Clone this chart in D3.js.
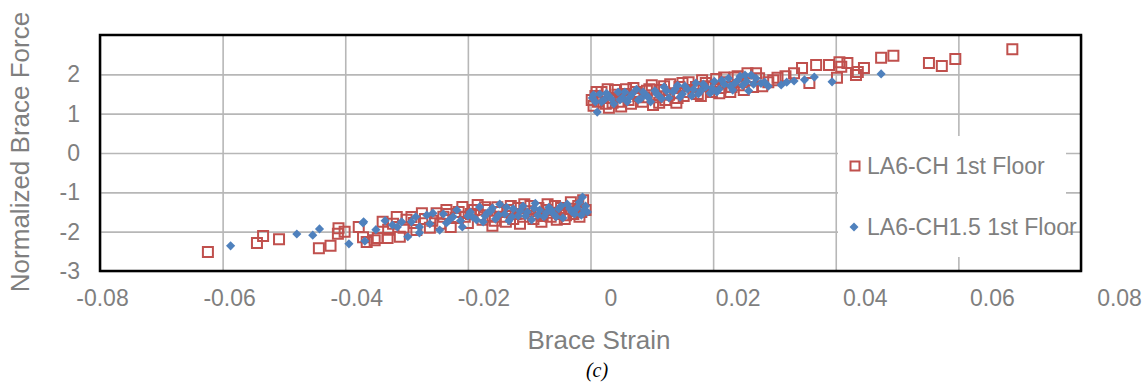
<!DOCTYPE html>
<html>
<head>
<meta charset="utf-8">
<script src="https://cdn.jsdelivr.net/npm/d3@7"></script>
<style>
  body { margin: 0; background: #fff; }
  svg text { font-family: "Liberation Sans", Arial, sans-serif; }
</style>
</head>
<body>
<div id="chart"></div>
<script>
// x ticks / y ticks
const xTicks = [-0.08, -0.06, -0.04, -0.02, 0, 0.02, 0.04, 0.06, 0.08];
const yTicks = [-3, -2, -1, 0, 1, 2];
const seriesNames = ["LA6-CH 1st Floor", "LA6-CH1.5 1st Floor"];

// LA6-CH 1st Floor (red squares)
const chStrain = [
  -0.0624, -0.0544, -0.0534, -0.0508, -0.0443, -0.0424, -0.0411, -0.0401, -0.0412, -0.0378,
  -0.0371, -0.0365, -0.0352, -0.0347, -0.0339, -0.0331, -0.0316, -0.0311, -0.0300, -0.0292,
  -0.0284, -0.0275, -0.0262, -0.0251, -0.0245, -0.0235, -0.0228, -0.0220, -0.0209, -0.0200,
  -0.0195, -0.0184, -0.0176, -0.0168, -0.0160, -0.0152, -0.0145, -0.0138, -0.0130, -0.0122,
  -0.0115, -0.0108, -0.0100, -0.0093, -0.0085, -0.0078, -0.0070, -0.0062, -0.0055, -0.0048,
  -0.0040, -0.0032, -0.0025, -0.0018, -0.0012, -0.0008,
  -0.0330, -0.0322, -0.0305, -0.0288, -0.0270, -0.0258, -0.0240, -0.0232, -0.0215, -0.0205,
  -0.0190, -0.0180, -0.0172, -0.0164, -0.0156, -0.0148, -0.0135, -0.0126, -0.0118, -0.0110,
  -0.0098, -0.0088, -0.0080, -0.0072, -0.0065, -0.0058, -0.0050, -0.0042, -0.0035, -0.0028,
  -0.0020, -0.0015,
  0.0005, 0.0008, 0.0012, 0.0018, 0.0025, 0.0032, 0.0040, 0.0048, 0.0055, 0.0062,
  0.0070, 0.0078, 0.0085, 0.0092, 0.0100, 0.0108, 0.0115, 0.0122, 0.0130, 0.0138,
  0.0145, 0.0152, 0.0160, 0.0168, 0.0175, 0.0182, 0.0190, 0.0198, 0.0205, 0.0212,
  0.0220, 0.0228, 0.0235, 0.0242, 0.0250, 0.0256, 0.0262, 0.0270, 0.0280, 0.0290,
  0.0305, 0.0332, 0.0345, 0.0357, 0.0368, 0.0389, 0.0402, 0.0406, 0.0409, 0.0419,
  0.0433, 0.0436, 0.0446, 0.0474, 0.0494, 0.0552, 0.0573, 0.0595, 0.0688,
  0.0050, 0.0102, 0.0140, 0.0030,
  0.0002, 0.0010, 0.0020, 0.0028, 0.0036, 0.0044, 0.0058, 0.0066, 0.0074, 0.0088,
  0.0096, 0.0112, 0.0120, 0.0128, 0.0142, 0.0150, 0.0158, 0.0172, 0.0180, 0.0188,
  0.0200, 0.0210, 0.0218, 0.0230, 0.0240, 0.0248, 0.0265, 0.0275, 0.0298, 0.0318
];
const chForce = [
  -2.52, -2.29, -2.11, -2.19, -2.42, -2.36, -1.91, -2.00, -2.05, -1.88,
  -2.14, -2.26, -2.22, -2.16, -1.75, -2.16, -1.63, -2.13, -1.70, -1.63,
  -1.96, -1.53, -1.90, -1.53, -1.80, -1.45, -1.88, -1.65, -1.37, -1.78,
  -1.55, -1.32, -1.70, -1.45, -1.85, -1.38, -1.62, -1.75, -1.35, -1.55,
  -1.80, -1.30, -1.48, -1.68, -1.40, -1.60, -1.30, -1.52, -1.70, -1.40,
  -1.58, -1.25, -1.48, -1.62, -1.20, -1.45,
  -1.95, -1.80, -1.90, -1.78, -1.68, -1.72, -1.62, -1.55, -1.50, -1.62,
  -1.45, -1.58, -1.38, -1.62, -1.72, -1.50, -1.45, -1.68, -1.40, -1.62,
  -1.35, -1.55, -1.75, -1.45, -1.62, -1.35, -1.55, -1.68, -1.42, -1.55,
  -1.35, -1.50,
  1.20, 1.45, 1.30, 1.55, 1.25, 1.40, 1.60, 1.30, 1.50, 1.35,
  1.65, 1.45, 1.30, 1.58, 1.72, 1.42, 1.60, 1.35, 1.75, 1.52,
  1.68, 1.45, 1.80, 1.60, 1.50, 1.85, 1.70, 1.55, 1.88, 1.65,
  1.80, 1.55, 1.92, 1.72, 1.60, 2.03, 1.85, 2.03, 1.70, 1.80,
  1.91, 2.03, 2.16, 1.78, 2.24, 2.24, 1.91, 2.31, 2.19, 2.29,
  1.98, 2.06, 2.16, 2.42, 2.47, 2.29, 2.21, 2.39, 2.64,
  1.18, 1.22, 1.28, 1.15,
  1.35, 1.55, 1.40, 1.62, 1.28, 1.48, 1.62, 1.25, 1.55, 1.42,
  1.62, 1.28, 1.70, 1.48, 1.40, 1.78, 1.55, 1.68, 1.45, 1.78,
  1.68, 1.52, 1.92, 1.68, 1.95, 1.80, 1.68, 1.90, 1.85, 1.95
];

// LA6-CH1.5 1st Floor (blue diamonds)
const ch15Strain = [
  -0.0587, -0.0479, -0.0453, -0.0442, -0.0394, -0.0370, -0.0368, -0.0371, -0.0350, -0.0323,
  -0.0308, -0.0298, -0.0292, -0.0279, -0.0279, -0.0267, -0.0257, -0.0246, -0.0235, -0.0230,
  -0.0218, -0.0209, -0.0200, -0.0192, -0.0181, -0.0175, -0.0168, -0.0160, -0.0155, -0.0148,
  -0.0140, -0.0133, -0.0126, -0.0118, -0.0110, -0.0103, -0.0096, -0.0090, -0.0083, -0.0076,
  -0.0068, -0.0060, -0.0052, -0.0045, -0.0038, -0.0030, -0.0022, -0.0015, -0.0013, -0.0008,
  -0.0005,
  -0.0335, -0.0315, -0.0285, -0.0262, -0.0240, -0.0224, -0.0212, -0.0196, -0.0186, -0.0172,
  -0.0163, -0.0150, -0.0137, -0.0128, -0.0115, -0.0106, -0.0092, -0.0086, -0.0072, -0.0064,
  -0.0056, -0.0048, -0.0034, -0.0026, -0.0018, -0.0010,
  0.0003, 0.0008, 0.0011, 0.0015, 0.0022, 0.0030, 0.0038, 0.0045, 0.0052, 0.0060,
  0.0068, 0.0075, 0.0082, 0.0090, 0.0098, 0.0105, 0.0112, 0.0120, 0.0128, 0.0135,
  0.0142, 0.0150, 0.0158, 0.0165, 0.0172, 0.0180, 0.0188, 0.0195, 0.0202, 0.0210,
  0.0218, 0.0225, 0.0232, 0.0240, 0.0248, 0.0252, 0.0258, 0.0262, 0.0270, 0.0278,
  0.0290, 0.0311, 0.0320, 0.0332, 0.0349, 0.0365, 0.0394, 0.0474,
  0.0005, 0.0018, 0.0026, 0.0034, 0.0048, 0.0056, 0.0064, 0.0078, 0.0086, 0.0094,
  0.0108, 0.0116, 0.0124, 0.0138, 0.0146, 0.0154, 0.0168, 0.0176, 0.0184, 0.0198,
  0.0206, 0.0214, 0.0228, 0.0236, 0.0244, 0.0255, 0.0266, 0.0284
];
const ch15Force = [
  -2.36, -2.06, -2.09, -1.93, -2.31, -1.75, -2.24, -1.78, -1.95, -1.83,
  -1.75, -2.13, -1.75, -1.88, -2.03, -1.58, -1.53, -1.96, -1.78, -1.70,
  -1.45, -1.88, -1.60, -1.63, -1.37, -1.75, -1.52, -1.40, -1.68, -1.30,
  -1.55, -1.72, -1.42, -1.60, -1.35, -1.50, -1.70, -1.28, -1.45, -1.62,
  -1.38, -1.55, -1.42, -1.65, -1.30, -1.50, -1.40, -1.58, -1.12, -1.35,
  -1.50,
  -1.72, -1.88, -1.62, -1.80, -1.55, -1.62, -1.72, -1.50, -1.70, -1.60,
  -1.48, -1.58, -1.38, -1.62, -1.48, -1.60, -1.40, -1.58, -1.52, -1.45,
  -1.62, -1.35, -1.42, -1.55, -1.25, -1.45,
  1.40, 1.30, 1.04, 1.50, 1.35, 1.45, 1.25, 1.55, 1.40, 1.30,
  1.50, 1.62, 1.38, 1.48, 1.30, 1.58, 1.45, 1.68, 1.40, 1.55,
  1.72, 1.50, 1.62, 1.45, 1.78, 1.58, 1.68, 1.52, 1.82, 1.62,
  1.75, 1.90, 1.60, 1.85, 1.72, 1.98, 1.58, 1.98, 1.90, 1.77,
  1.70, 1.73, 1.80, 1.83, 1.86, 1.93, 1.81, 2.01,
  1.48, 1.30, 1.52, 1.38, 1.35, 1.55, 1.42, 1.35, 1.55, 1.42,
  1.50, 1.38, 1.58, 1.62, 1.42, 1.70, 1.62, 1.50, 1.75, 1.65,
  1.55, 1.85, 1.70, 1.78, 1.95, 1.82, 1.75, 1.80
];

const W = 1145, H = 391;
const plot = { left: 100, right: 1081, top: 35, bottom: 271 };
const red = "#c0504d", blue = "#4f81bd", grey = "#7f7f7f";

const svg = d3.select("#chart").append("svg")
  .attr("width", W).attr("height", H);

const x = d3.scaleLinear().domain([-0.08, 0.08]).range([plot.left, plot.right]);
const y = d3.scaleLinear().domain([-3, 3]).range([plot.bottom, plot.top]);
// tick labels in the source sit slightly right of their grid lines
const xLab = d3.scaleLinear().domain([-0.08, 0.08]).range([102, 1119]);

// grid
svg.append("g")
  .attr("transform", `translate(0,${plot.bottom})`)
  .call(d3.axisBottom(x).tickValues(xTicks).tickSize(-(plot.bottom - plot.top)).tickFormat(""))
  .call(g => g.select(".domain").remove())
  .call(g => g.selectAll("line").attr("stroke", "#b7b7b7").attr("stroke-width", 1.6));
svg.append("g")
  .attr("transform", `translate(${plot.left},0)`)
  .call(d3.axisLeft(y).tickValues(yTicks).tickSize(-(plot.right - plot.left)).tickFormat(""))
  .call(g => g.select(".domain").remove())
  .call(g => g.selectAll("line").attr("stroke", "#b7b7b7").attr("stroke-width", 1.6));

// tick labels
svg.append("g")
  .attr("transform", `translate(0,${plot.bottom + 16})`)
  .call(d3.axisBottom(xLab).tickValues(xTicks).tickSize(0).tickFormat(d => d === 0 ? "0" : d3.format(".2f")(d).replace("−", "-")))
  .call(g => g.select(".domain").remove())
  .call(g => g.selectAll("text").attr("fill", grey).style("font-size", "23px")
    .style("font-family", "'Liberation Sans', Arial, sans-serif"));
svg.append("g")
  .attr("transform", `translate(80,0)`)
  .call(d3.axisLeft(y).tickValues(yTicks).tickSize(0).tickPadding(0).tickFormat(d => String(d)))
  .call(g => g.select(".domain").remove())
  .call(g => g.selectAll("text").attr("fill", grey).style("font-size", "23px")
    .style("font-family", "'Liberation Sans', Arial, sans-serif"));

// points
const chData = chStrain.map((s, i) => ({ s, f: chForce[i] }));
const ch15Data = ch15Strain.map((s, i) => ({ s, f: ch15Force[i] }));

svg.append("clipPath").attr("id", "clip").append("rect")
  .attr("x", plot.left).attr("y", plot.top)
  .attr("width", plot.right - plot.left).attr("height", plot.bottom - plot.top);

const marks = svg.append("g").attr("clip-path", "url(#clip)");
marks.selectAll("path.ch").data(chData).join("path")
  .attr("class", "ch")
  .attr("d", d3.symbol(d3.symbolSquare, 100))
  .attr("transform", d => `translate(${x(d.s)},${y(d.f)})`)
  .attr("fill", "none").attr("stroke", red).attr("stroke-width", 2);
marks.selectAll("path.ch15").data(ch15Data).join("path")
  .attr("class", "ch15")
  .attr("d", d3.symbol(d3.symbolSquare, 42))
  .attr("transform", d => `translate(${x(d.s)},${y(d.f)}) rotate(45)`)
  .attr("fill", blue);

// plot border
svg.append("rect")
  .attr("x", plot.left).attr("y", plot.top)
  .attr("width", plot.right - plot.left).attr("height", plot.bottom - plot.top)
  .attr("fill", "none").attr("stroke", "#000").attr("stroke-width", 2.5);

// legend
const leg = svg.append("g");
leg.append("rect").attr("x", 838).attr("y", 136).attr("width", 228).attr("height", 121).attr("fill", "#fff");
leg.append("path")
  .attr("d", d3.symbol(d3.symbolSquare, 81))
  .attr("transform", "translate(855,166)")
  .attr("fill", "none").attr("stroke", red).attr("stroke-width", 2);
leg.append("path")
  .attr("d", d3.symbol(d3.symbolSquare, 40))
  .attr("transform", "translate(854,227) rotate(45)")
  .attr("fill", blue);
leg.selectAll("text").data(seriesNames).join("text")
  .attr("x", 867).attr("y", (d, i) => [174, 235][i])
  .attr("fill", grey).style("font-size", "23px")
  .text(d => d);

// axis titles
svg.append("text")
  .attr("transform", "translate(29,152) rotate(-90)")
  .attr("text-anchor", "middle").attr("fill", grey).style("font-size", "26px")
  .text("Normalized Brace Force");
svg.append("text")
  .attr("x", 599).attr("y", 349)
  .attr("text-anchor", "middle").attr("fill", grey).style("font-size", "26px")
  .text("Brace Strain");
svg.append("text")
  .attr("x", 597).attr("y", 377)
  .attr("text-anchor", "middle").attr("fill", "#000")
  .style("font-family", "'Liberation Serif', 'DejaVu Serif', serif")
  .style("font-style", "italic").style("font-size", "20px")
  .text("(c)");
</script>
</body>
</html>
